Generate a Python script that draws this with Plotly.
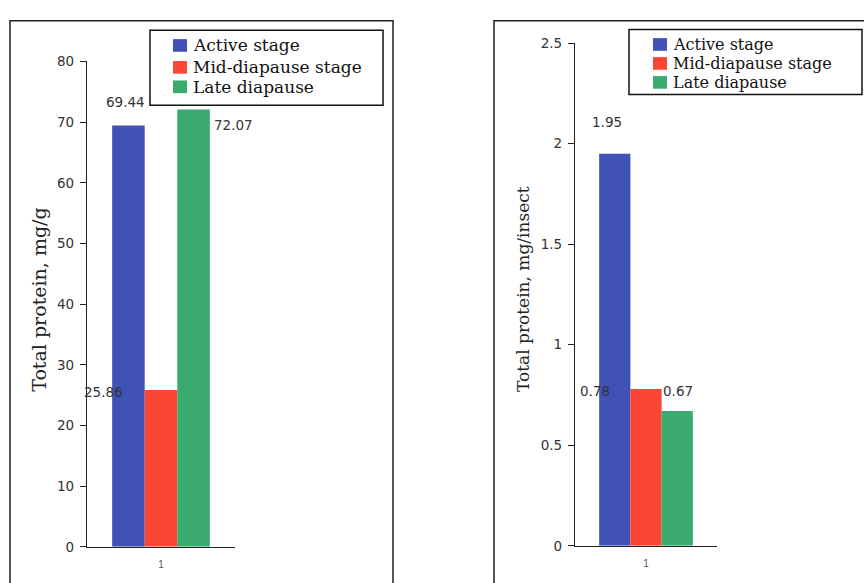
import plotly.graph_objects as go

# Data: total protein content by developmental stage
stages = ["Active stage", "Mid-diapause stage", "Late diapause"]
colors = ["#4052b5", "#fb4634", "#3aaa6e"]
category = ["1"]
protein_mg_per_g = [69.44, 25.86, 72.07]
protein_mg_per_insect = [1.95, 0.78, 0.67]

W, H = 864, 583


def px(x):
    return x / W


def py(y):
    return 1 - y / H


fig = go.Figure()

for name, col, v1, v2 in zip(stages, colors, protein_mg_per_g, protein_mg_per_insect):
    fig.add_trace(go.Bar(x=category, y=[v1], name=name, marker_color=col,
                         marker_line_width=0, xaxis="x", yaxis="y", showlegend=False))
    fig.add_trace(go.Bar(x=category, y=[v2], name=name, marker_color=col,
                         marker_line_width=0, xaxis="x2", yaxis="y2", showlegend=False))

# value labels (pixel offsets from each bar's top centre)
bar_offsets = [-0.22, 0.0, 0.22]
label_shift_left = [(-3, 24), (-58, -2), (40, -15)]
label_shift_right = [(-8, 32), (-51, -2), (1, 20)]
label_font = dict(family="DejaVu Sans", size=13.5, color="#333")
annotations = []
for off, v, (dx, dy) in zip(bar_offsets, protein_mg_per_g, label_shift_left):
    annotations.append(dict(x=off, y=v, xref="x", yref="y", text=f"{v:.2f}",
                            showarrow=False, xshift=dx, yshift=dy, font=label_font))
for off, v, (dx, dy) in zip(bar_offsets, protein_mg_per_insect, label_shift_right):
    annotations.append(dict(x=off, y=v, xref="x2", yref="y2", text=f"{v:.2f}",
                            showarrow=False, xshift=dx, yshift=dy, font=label_font))

annotations.append(dict(x=px(39), y=py(300), xref="paper", yref="paper",
                        xanchor="center", yanchor="middle",
                        text="Total protein, mg/g", textangle=-90, showarrow=False,
                        font=dict(family="DejaVu Serif", size=19, color="#222")))
annotations.append(dict(x=px(523), y=py(289), xref="paper", yref="paper",
                        xanchor="center", yanchor="middle",
                        text="Total protein, mg/insect", textangle=-90, showarrow=False,
                        font=dict(family="DejaVu Serif", size=17, color="#222")))

frame = dict(type="rect", xref="paper", yref="paper", line=dict(color="#222", width=1.5),
             fillcolor="rgba(0,0,0,0)", layer="below")
shapes = [
    dict(x0=px(10), x1=px(393), y0=py(13), y1=py(600), **frame),
    dict(x0=px(494), x1=px(880), y0=py(13), y1=py(600), **frame),
]

# Boxed key for each panel: box edges, swatch left edge, row centres (px), font size
legend_boxes = [
    dict(box=(150, 383, 23, 100), swatch_x=173, rows=[38.5, 61, 81], size=17),
    dict(box=(629, 862, 22, 89), swatch_x=653, rows=[37.5, 57, 76.5], size=16),
]
for lg in legend_boxes:
    x0, x1, y0, y1 = lg["box"]
    shapes.append(dict(type="rect", xref="paper", yref="paper",
                       x0=px(x0), x1=px(x1), y0=py(y1), y1=py(y0),
                       line=dict(color="#111", width=1.5), fillcolor="white"))
    for name, col, yc in zip(stages, colors, lg["rows"]):
        sx = lg["swatch_x"]
        shapes.append(dict(type="rect", xref="paper", yref="paper",
                           x0=px(sx), x1=px(sx + 14), y0=py(yc + 6.5), y1=py(yc - 6.5),
                           line=dict(width=0), fillcolor=col))
        annotations.append(dict(x=px(sx + 19), y=py(yc), xref="paper", yref="paper",
                                xanchor="left", yanchor="middle", text=name,
                                showarrow=False, borderpad=0,
                                font=dict(family="DejaVu Serif", size=lg["size"],
                                          color="#111")))

tick_font = dict(family="DejaVu Sans", size=13.5, color="#333")
common_y = dict(showline=True, linecolor="#222", linewidth=1.2, ticks="outside",
                ticklen=6, tickcolor="#222", showgrid=False, zeroline=False,
                tickfont=tick_font, ticklabelstandoff=3)
common_x = dict(showline=True, linecolor="#222", linewidth=1.2, ticks="outside",
                ticklen=8, tickcolor="rgba(0,0,0,0)", showgrid=False,
                range=[-0.5, 0.5], fixedrange=True,
                tickfont=dict(family="Liberation Sans", size=10, color="#555"))

fig.update_layout(
    width=W, height=H,
    margin=dict(l=0, r=0, t=0, b=0),
    paper_bgcolor="white", plot_bgcolor="white",
    barmode="group", bargap=0.34, bargroupgap=0,
    xaxis=dict(domain=[px(87), px(235)], anchor="y", **common_x),
    yaxis=dict(domain=[py(554), py(55)], anchor="x", range=[0, 80], dtick=10, **common_y),
    xaxis2=dict(domain=[px(575), px(717)], anchor="y2", **common_x),
    yaxis2=dict(domain=[py(553), py(36)], anchor="x2", range=[0, 2.5], dtick=0.5, **common_y),
    annotations=annotations,
    shapes=shapes,
)

fig.write_html("out.html")
